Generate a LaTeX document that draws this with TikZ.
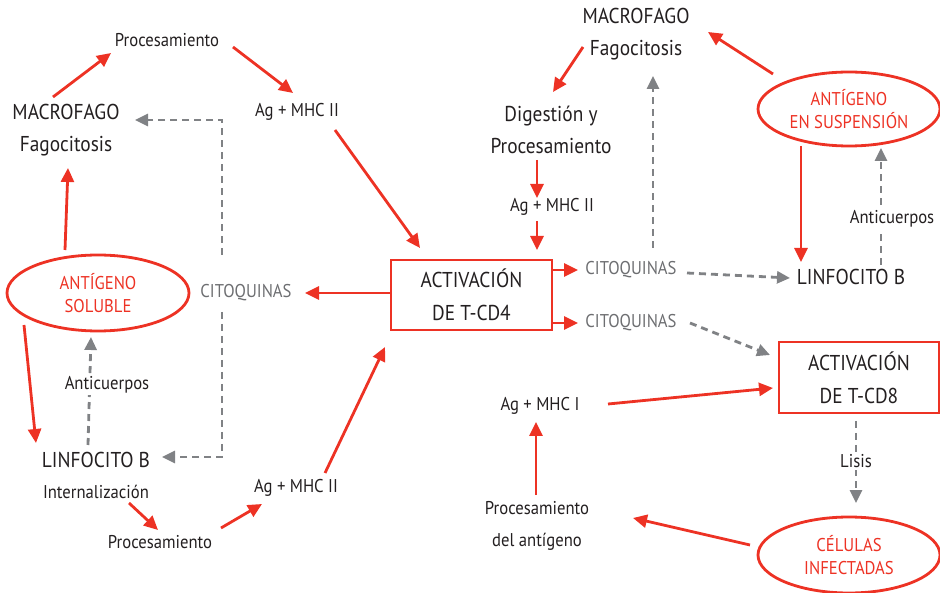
\documentclass[tikz,border=0pt]{standalone}
\usepackage{fontspec}
\setmainfont{PT Sans}[FakeStretch=0.9]
\usetikzlibrary{arrows.meta,shapes.geometric,backgrounds}
\definecolor{rd}{RGB}{237,50,36}
\definecolor{gr}{RGB}{128,130,133}
\definecolor{tx}{RGB}{35,31,32}
\definecolor{ct}{RGB}{109,110,113}
\tikzset{
 big/.style={text=tx,font=\fontsize{21.5}{32}\selectfont,align=center,inner sep=0pt},
 small/.style={text=tx,font=\fontsize{18.5}{32}\selectfont,align=center,inner sep=0pt},
 cito/.style={text=ct,font=\fontsize{18.5}{32}\selectfont,inner sep=0pt},
 ovalbox/.style={ellipse,draw=rd,line width=2.8pt,minimum width=182pt,minimum height=76pt,inner sep=0pt,text=rd,align=center,font=\fontsize{18.5}{23}\selectfont},
 actbox/.style={rectangle,draw=rd,line width=2.8pt,minimum width=161pt,minimum height=70pt,inner sep=0pt,text=tx,align=center,font=\fontsize{21.5}{33}\selectfont},
 ra/.style={draw=rd,line width=2.8pt,-{Triangle[length=14pt,width=13pt]}},
 ga/.style={draw=gr,line width=2.8pt,dash pattern=on 7pt off 5pt,-{Triangle[length=13pt,width=12pt]}},
 lab/.style={small,fill=white,inner sep=2pt},
}
\begin{document}
\begin{tikzpicture}[x=1pt,y=-1pt]
\useasboundingbox (0,0) rectangle (940,593);
% nodes
\node[small] (procTL) at (167,40) {Procesamiento};
\node[big] (mac1) at (66,130) {MACROFAGO\\Fagocitosis};
\node[small] (agTL) at (297,112) {Ag + MHC II};
\node[cito] (citoL) at (246,293) {CITOQUINAS};
\node[ovalbox] (solub) at (98,293) {ANTÍGENO\\SOLUBLE};
\node[big] (linfL) at (96,460) {LINFOCITO B};
\node[small] (intern) at (96,492) {Internalización};
\node[lab] (antiL) at (107,385) {Anticuerpos};
\node[small] (procBL) at (160,542) {Procesamiento};
\node[small] (agBL) at (296,488) {Ag + MHC II};
\node[actbox] (cd4) at (471.5,295) {ACTIVACIÓN\\DE T-CD4};
\node[cito] (citoR1) at (631,270) {CITOQUINAS};
\node[cito] (citoR2) at (631,323) {CITOQUINAS};
\node[big] (mac2) at (636,34) {MACROFAGO\\Fagocitosis};
\node[big] (dig) at (551,130) {Digestión y\\Procesamiento};
\node[small] (agR) at (552,207) {Ag + MHC II};
\node[ovalbox,minimum height=74pt] (susp) at (849,109) {ANTÍGENO\\EN SUSPENSIÓN};
\node[big] (linfR) at (851,277) {LINFOCITO B};
\node[lab] (antiR) at (892,219) {Anticuerpos};
\node[actbox,minimum width=160pt,minimum height=71pt] (cd8) at (859,377.5) {ACTIVACIÓN\\DE T-CD8};
\node[small] (agI) at (540,406) {Ag + MHC I};
\node[lab] (lisis) at (856,461) {Lisis};
\node[ovalbox] (cel) at (849,555) {CÉLULAS\\INFECTADAS};
\node[small] (procA) at (537,526) {Procesamiento\\del antígeno};
% connectors
\begin{pgfonlayer}{background}
\draw[ra] ([shift={(-13,-33)}]mac1.center) -- ([shift={(-56,13)}]procTL.center);
\draw[ra] ([shift={(66,7)}]procTL.center) -- ([shift={(-4,-19)}]agTL.center);
\draw[ra] ([shift={(38,18)}]agTL.center) -- ([shift={(-51.5,-47)}]cd4.center);
\draw[ra] ([shift={(-33,-43)}]solub.center) -- ([shift={(2,38)}]mac1.center);
\draw[ra] ([shift={(-74,32)}]solub.center) -- ([shift={(-60,-17)}]linfL.center);
\draw[ra] ([shift={(33,11)}]intern.center) -- ([shift={(-2,-12)}]procBL.center);
\draw[ra] ([shift={(61,-14)}]procBL.center) -- ([shift={(-34,16)}]agBL.center);
\draw[ra] ([shift={(29,-15)}]agBL.center) -- ([shift={(-86.5,52)}]cd4.center);
\draw[ra] ([shift={(-80.5,-2)}]cd4.center) -- ([shift={(59,0)}]citoL.center);
\draw[ra] ([shift={(80.5,-25)}]cd4.center) -- ([shift={(-53,0)}]citoR1.center);
\draw[ra] ([shift={(80.5,28)}]cd4.center) -- ([shift={(-53,0)}]citoR2.center);
\draw[ra] ([shift={(-53,13)}]mac2.center) -- ([shift={(2,-38)}]dig.center);
\draw[ra] ([shift={(-14,30)}]dig.center) -- ([shift={(-15,-9)}]agR.center);
\draw[ra] ([shift={(-15,14)}]agR.center) -- ([shift={(65.5,-45)}]cd4.center);
\draw[ra] ([shift={(-76,-35)}]susp.center) -- ([shift={(72,-2)}]mac2.center);
\draw[ra] ([shift={(-48,37)}]susp.center) -- ([shift={(-50,-15)}]linfR.center);
\draw[ra] ([shift={(68,-2)}]agI.center) -- ([shift={(-86,10.5)}]cd8.center);
\draw[ra] ([shift={(-99,-10)}]cel.center) -- ([shift={(96,-8)}]procA.center);
\draw[ra] ([shift={(-1,-31)}]procA.center) -- ([shift={(-4,16)}]agI.center);
% dashed
\draw[ga] ([shift={(-24,-38)}]citoL.center) |- ([shift={(69,-10)}]mac1.center);
\draw[ga] ([shift={(-24,19)}]citoL.center) |- ([shift={(66,-3)}]linfL.center);
\draw[ga] ([shift={(-8,-15)}]linfL.center) -- ([shift={(-7,44)}]solub.center);
\draw[ga] ([shift={(22,-22)}]citoR1.center) -- ([shift={(17,42)}]mac2.center);
\draw[ga] ([shift={(56,3)}]citoR1.center) -- ([shift={(-61,1)}]linfR.center);
\draw[ga] ([shift={(30,-12)}]linfR.center) -- ([shift={(32,39)}]susp.center);
\draw[ga] ([shift={(59,0)}]citoR2.center) -- ([shift={(-89,-22.5)}]cd8.center);
\draw[ga] ([shift={(-3,43.5)}]cd8.center) -- ([shift={(7,-52)}]cel.center);
\end{pgfonlayer}
\end{tikzpicture}
\end{document}
